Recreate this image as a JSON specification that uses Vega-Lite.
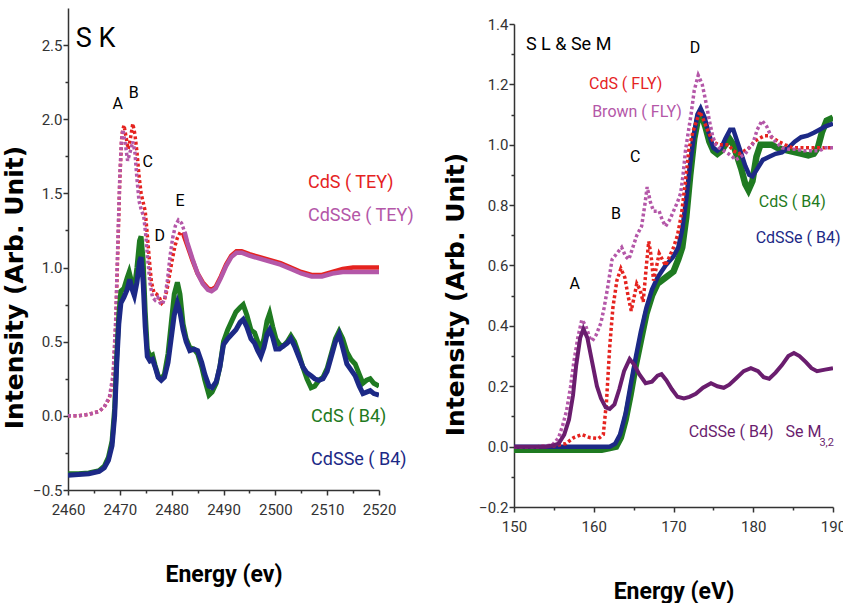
{
  "$schema": "https://vega.github.io/schema/vega-lite/v6.json",
  "background": "white",
  "padding": {"left": 2, "top": 8, "right": 0, "bottom": 0},
  "spacing": 28,
  "config": {
    "view": {"stroke": null},
    "axis": {
      "grid": false,
      "domainColor": "#333",
      "domainWidth": 1.5,
      "tickColor": "#333",
      "tickWidth": 1.5,
      "labelColor": "#333",
      "labelFont": "Roboto",
      "labelFontSize": 15,
      "labelFlush": false,
      "titleColor": "black",
      "labelOverlap": false
    },
    "axisX": {"labelPadding": 7, "titleFont": "Roboto", "titleFontSize": 23, "titleFontWeight": "bold", "titlePadding": 46},
    "axisY": {"labelPadding": 1, "titleFont": "DejaVu Sans", "titleFontSize": 25, "titleFontWeight": "bold", "titlePadding": 5},
    "text": {"font": "Roboto"}
  },
  "datasets": {
    "sk": [
      {"s": "CdS TEY", "E": 2460, "I": 0.0}, {"s": "CdS TEY", "E": 2462, "I": 0.0}, {"s": "CdS TEY", "E": 2464, "I": 0.01}, {"s": "CdS TEY", "E": 2466, "I": 0.03}, {"s": "CdS TEY", "E": 2467, "I": 0.06}, {"s": "CdS TEY", "E": 2468, "I": 0.12}, {"s": "CdS TEY", "E": 2468.7, "I": 0.25}, {"s": "CdS TEY", "E": 2469.2, "I": 0.6}, {"s": "CdS TEY", "E": 2469.6, "I": 1.1}, {"s": "CdS TEY", "E": 2470.0, "I": 1.6}, {"s": "CdS TEY", "E": 2470.4, "I": 1.9}, {"s": "CdS TEY", "E": 2470.8, "I": 1.96}, {"s": "CdS TEY", "E": 2471.2, "I": 1.88}, {"s": "CdS TEY", "E": 2471.6, "I": 1.8}, {"s": "CdS TEY", "E": 2472.0, "I": 1.86}, {"s": "CdS TEY", "E": 2472.5, "I": 1.97}, {"s": "CdS TEY", "E": 2472.9, "I": 1.9}, {"s": "CdS TEY", "E": 2473.3, "I": 1.78}, {"s": "CdS TEY", "E": 2473.7, "I": 1.62}, {"s": "CdS TEY", "E": 2474.1, "I": 1.5}, {"s": "CdS TEY", "E": 2474.5, "I": 1.44}, {"s": "CdS TEY", "E": 2474.9, "I": 1.38}, {"s": "CdS TEY", "E": 2475.3, "I": 1.22}, {"s": "CdS TEY", "E": 2475.7, "I": 1.05}, {"s": "CdS TEY", "E": 2476.1, "I": 0.9}, {"s": "CdS TEY", "E": 2476.6, "I": 0.83}, {"s": "CdS TEY", "E": 2477.1, "I": 0.82}, {"s": "CdS TEY", "E": 2477.6, "I": 0.8}, {"s": "CdS TEY", "E": 2478.1, "I": 0.76}, {"s": "CdS TEY", "E": 2478.6, "I": 0.78}, {"s": "CdS TEY", "E": 2479.1, "I": 0.85}, {"s": "CdS TEY", "E": 2479.6, "I": 0.95}, {"s": "CdS TEY", "E": 2480.1, "I": 1.05}, {"s": "CdS TEY", "E": 2480.6, "I": 1.14}, {"s": "CdS TEY", "E": 2481.1, "I": 1.2}, {"s": "CdS TEY", "E": 2481.7, "I": 1.24}, {"s": "CdS TEY", "E": 2482.3, "I": 1.22}, {"s": "CdS TEY", "E": 2483, "I": 1.15}, {"s": "CdS TEY", "E": 2484, "I": 1.05}, {"s": "CdS TEY", "E": 2485, "I": 0.96}, {"s": "CdS TEY", "E": 2486, "I": 0.9}, {"s": "CdS TEY", "E": 2487, "I": 0.86}, {"s": "CdS TEY", "E": 2487.7, "I": 0.85}, {"s": "CdS TEY", "E": 2488.5, "I": 0.87}, {"s": "CdS TEY", "E": 2489.5, "I": 0.94}, {"s": "CdS TEY", "E": 2490.5, "I": 1.02}, {"s": "CdS TEY", "E": 2491.5, "I": 1.08}, {"s": "CdS TEY", "E": 2492.5, "I": 1.11}, {"s": "CdS TEY", "E": 2493.5, "I": 1.11}, {"s": "CdS TEY", "E": 2495, "I": 1.09}, {"s": "CdS TEY", "E": 2497, "I": 1.07}, {"s": "CdS TEY", "E": 2499, "I": 1.05}, {"s": "CdS TEY", "E": 2501, "I": 1.03}, {"s": "CdS TEY", "E": 2503, "I": 1.0}, {"s": "CdS TEY", "E": 2505, "I": 0.97}, {"s": "CdS TEY", "E": 2507, "I": 0.95}, {"s": "CdS TEY", "E": 2509, "I": 0.95}, {"s": "CdS TEY", "E": 2511, "I": 0.97}, {"s": "CdS TEY", "E": 2513, "I": 0.99}, {"s": "CdS TEY", "E": 2515, "I": 1.0}, {"s": "CdS TEY", "E": 2517, "I": 1.0}, {"s": "CdS TEY", "E": 2520, "I": 1.0},

      {"s": "CdSSe TEY", "E": 2460, "I": 0.0}, {"s": "CdSSe TEY", "E": 2462, "I": 0.0}, {"s": "CdSSe TEY", "E": 2464, "I": 0.01}, {"s": "CdSSe TEY", "E": 2466, "I": 0.03}, {"s": "CdSSe TEY", "E": 2467, "I": 0.06}, {"s": "CdSSe TEY", "E": 2468, "I": 0.13}, {"s": "CdSSe TEY", "E": 2468.7, "I": 0.28}, {"s": "CdSSe TEY", "E": 2469.2, "I": 0.65}, {"s": "CdSSe TEY", "E": 2469.6, "I": 1.15}, {"s": "CdSSe TEY", "E": 2470.0, "I": 1.62}, {"s": "CdSSe TEY", "E": 2470.3, "I": 1.85}, {"s": "CdSSe TEY", "E": 2470.6, "I": 1.93}, {"s": "CdSSe TEY", "E": 2471.0, "I": 1.85}, {"s": "CdSSe TEY", "E": 2471.5, "I": 1.72}, {"s": "CdSSe TEY", "E": 2472.0, "I": 1.78}, {"s": "CdSSe TEY", "E": 2472.5, "I": 1.85}, {"s": "CdSSe TEY", "E": 2472.9, "I": 1.78}, {"s": "CdSSe TEY", "E": 2473.3, "I": 1.6}, {"s": "CdSSe TEY", "E": 2473.7, "I": 1.45}, {"s": "CdSSe TEY", "E": 2474.2, "I": 1.38}, {"s": "CdSSe TEY", "E": 2474.6, "I": 1.35}, {"s": "CdSSe TEY", "E": 2475.0, "I": 1.22}, {"s": "CdSSe TEY", "E": 2475.4, "I": 1.05}, {"s": "CdSSe TEY", "E": 2475.8, "I": 0.9}, {"s": "CdSSe TEY", "E": 2476.3, "I": 0.8}, {"s": "CdSSe TEY", "E": 2476.8, "I": 0.78}, {"s": "CdSSe TEY", "E": 2477.3, "I": 0.8}, {"s": "CdSSe TEY", "E": 2477.8, "I": 0.76}, {"s": "CdSSe TEY", "E": 2478.2, "I": 0.75}, {"s": "CdSSe TEY", "E": 2478.7, "I": 0.8}, {"s": "CdSSe TEY", "E": 2479.2, "I": 0.92}, {"s": "CdSSe TEY", "E": 2479.7, "I": 1.08}, {"s": "CdSSe TEY", "E": 2480.2, "I": 1.2}, {"s": "CdSSe TEY", "E": 2480.7, "I": 1.28}, {"s": "CdSSe TEY", "E": 2481.3, "I": 1.32}, {"s": "CdSSe TEY", "E": 2481.9, "I": 1.3}, {"s": "CdSSe TEY", "E": 2482.5, "I": 1.24}, {"s": "CdSSe TEY", "E": 2483, "I": 1.17}, {"s": "CdSSe TEY", "E": 2484, "I": 1.06}, {"s": "CdSSe TEY", "E": 2485, "I": 0.96}, {"s": "CdSSe TEY", "E": 2486, "I": 0.89}, {"s": "CdSSe TEY", "E": 2487, "I": 0.85}, {"s": "CdSSe TEY", "E": 2487.7, "I": 0.84}, {"s": "CdSSe TEY", "E": 2488.5, "I": 0.86}, {"s": "CdSSe TEY", "E": 2489.5, "I": 0.93}, {"s": "CdSSe TEY", "E": 2490.5, "I": 1.01}, {"s": "CdSSe TEY", "E": 2491.5, "I": 1.07}, {"s": "CdSSe TEY", "E": 2492.5, "I": 1.1}, {"s": "CdSSe TEY", "E": 2493.5, "I": 1.1}, {"s": "CdSSe TEY", "E": 2495, "I": 1.08}, {"s": "CdSSe TEY", "E": 2497, "I": 1.06}, {"s": "CdSSe TEY", "E": 2499, "I": 1.04}, {"s": "CdSSe TEY", "E": 2501, "I": 1.02}, {"s": "CdSSe TEY", "E": 2503, "I": 0.99}, {"s": "CdSSe TEY", "E": 2505, "I": 0.96}, {"s": "CdSSe TEY", "E": 2507, "I": 0.94}, {"s": "CdSSe TEY", "E": 2509, "I": 0.94}, {"s": "CdSSe TEY", "E": 2511, "I": 0.96}, {"s": "CdSSe TEY", "E": 2513, "I": 0.97}, {"s": "CdSSe TEY", "E": 2515, "I": 0.97}, {"s": "CdSSe TEY", "E": 2517, "I": 0.97}, {"s": "CdSSe TEY", "E": 2520, "I": 0.97},

      {"s": "CdS B4", "E": 2460, "I": -0.39}, {"s": "CdS B4", "E": 2462, "I": -0.39}, {"s": "CdS B4", "E": 2464, "I": -0.385}, {"s": "CdS B4", "E": 2466, "I": -0.37}, {"s": "CdS B4", "E": 2467, "I": -0.34}, {"s": "CdS B4", "E": 2467.8, "I": -0.28}, {"s": "CdS B4", "E": 2468.5, "I": -0.17}, {"s": "CdS B4", "E": 2469, "I": 0.05}, {"s": "CdS B4", "E": 2469.4, "I": 0.4}, {"s": "CdS B4", "E": 2469.8, "I": 0.68}, {"s": "CdS B4", "E": 2470.2, "I": 0.84}, {"s": "CdS B4", "E": 2470.8, "I": 0.86}, {"s": "CdS B4", "E": 2471.4, "I": 0.93}, {"s": "CdS B4", "E": 2471.8, "I": 0.97}, {"s": "CdS B4", "E": 2472.3, "I": 0.9}, {"s": "CdS B4", "E": 2472.8, "I": 0.86}, {"s": "CdS B4", "E": 2473.3, "I": 1.0}, {"s": "CdS B4", "E": 2473.8, "I": 1.18}, {"s": "CdS B4", "E": 2474.1, "I": 1.21}, {"s": "CdS B4", "E": 2474.5, "I": 1.05}, {"s": "CdS B4", "E": 2474.9, "I": 0.7}, {"s": "CdS B4", "E": 2475.3, "I": 0.45}, {"s": "CdS B4", "E": 2475.8, "I": 0.4}, {"s": "CdS B4", "E": 2476.3, "I": 0.41}, {"s": "CdS B4", "E": 2476.8, "I": 0.34}, {"s": "CdS B4", "E": 2477.4, "I": 0.27}, {"s": "CdS B4", "E": 2478.0, "I": 0.25}, {"s": "CdS B4", "E": 2478.6, "I": 0.28}, {"s": "CdS B4", "E": 2479.3, "I": 0.42}, {"s": "CdS B4", "E": 2479.9, "I": 0.62}, {"s": "CdS B4", "E": 2480.5, "I": 0.82}, {"s": "CdS B4", "E": 2481.1, "I": 0.9}, {"s": "CdS B4", "E": 2481.6, "I": 0.82}, {"s": "CdS B4", "E": 2482.2, "I": 0.62}, {"s": "CdS B4", "E": 2482.8, "I": 0.52}, {"s": "CdS B4", "E": 2483.5, "I": 0.46}, {"s": "CdS B4", "E": 2484.3, "I": 0.45}, {"s": "CdS B4", "E": 2485.0, "I": 0.42}, {"s": "CdS B4", "E": 2485.8, "I": 0.33}, {"s": "CdS B4", "E": 2486.4, "I": 0.24}, {"s": "CdS B4", "E": 2487.2, "I": 0.14}, {"s": "CdS B4", "E": 2487.8, "I": 0.16}, {"s": "CdS B4", "E": 2488.6, "I": 0.22}, {"s": "CdS B4", "E": 2489.3, "I": 0.33}, {"s": "CdS B4", "E": 2490.0, "I": 0.5}, {"s": "CdS B4", "E": 2490.8, "I": 0.58}, {"s": "CdS B4", "E": 2491.6, "I": 0.64}, {"s": "CdS B4", "E": 2492.4, "I": 0.7}, {"s": "CdS B4", "E": 2493.2, "I": 0.73}, {"s": "CdS B4", "E": 2493.8, "I": 0.75}, {"s": "CdS B4", "E": 2494.5, "I": 0.68}, {"s": "CdS B4", "E": 2495.3, "I": 0.58}, {"s": "CdS B4", "E": 2496.0, "I": 0.56}, {"s": "CdS B4", "E": 2496.6, "I": 0.5}, {"s": "CdS B4", "E": 2497.2, "I": 0.45}, {"s": "CdS B4", "E": 2497.8, "I": 0.52}, {"s": "CdS B4", "E": 2498.4, "I": 0.64}, {"s": "CdS B4", "E": 2498.9, "I": 0.69}, {"s": "CdS B4", "E": 2499.5, "I": 0.6}, {"s": "CdS B4", "E": 2500.1, "I": 0.52}, {"s": "CdS B4", "E": 2500.8, "I": 0.48}, {"s": "CdS B4", "E": 2501.5, "I": 0.47}, {"s": "CdS B4", "E": 2502.3, "I": 0.5}, {"s": "CdS B4", "E": 2503.0, "I": 0.54}, {"s": "CdS B4", "E": 2503.7, "I": 0.5}, {"s": "CdS B4", "E": 2504.5, "I": 0.42}, {"s": "CdS B4", "E": 2505.3, "I": 0.33}, {"s": "CdS B4", "E": 2506.1, "I": 0.25}, {"s": "CdS B4", "E": 2506.9, "I": 0.19}, {"s": "CdS B4", "E": 2507.6, "I": 0.2}, {"s": "CdS B4", "E": 2508.4, "I": 0.24}, {"s": "CdS B4", "E": 2509.2, "I": 0.26}, {"s": "CdS B4", "E": 2510.0, "I": 0.32}, {"s": "CdS B4", "E": 2510.8, "I": 0.42}, {"s": "CdS B4", "E": 2511.6, "I": 0.52}, {"s": "CdS B4", "E": 2512.3, "I": 0.57}, {"s": "CdS B4", "E": 2513.0, "I": 0.52}, {"s": "CdS B4", "E": 2513.8, "I": 0.43}, {"s": "CdS B4", "E": 2514.6, "I": 0.38}, {"s": "CdS B4", "E": 2515.4, "I": 0.35}, {"s": "CdS B4", "E": 2516.2, "I": 0.28}, {"s": "CdS B4", "E": 2516.9, "I": 0.22}, {"s": "CdS B4", "E": 2517.6, "I": 0.24}, {"s": "CdS B4", "E": 2518.3, "I": 0.25}, {"s": "CdS B4", "E": 2519.0, "I": 0.22}, {"s": "CdS B4", "E": 2520.0, "I": 0.2},

      {"s": "CdSSe B4", "E": 2460, "I": -0.4}, {"s": "CdSSe B4", "E": 2462, "I": -0.395}, {"s": "CdSSe B4", "E": 2464, "I": -0.39}, {"s": "CdSSe B4", "E": 2466, "I": -0.375}, {"s": "CdSSe B4", "E": 2467, "I": -0.35}, {"s": "CdSSe B4", "E": 2467.8, "I": -0.3}, {"s": "CdSSe B4", "E": 2468.5, "I": -0.2}, {"s": "CdSSe B4", "E": 2469, "I": 0.0}, {"s": "CdSSe B4", "E": 2469.4, "I": 0.35}, {"s": "CdSSe B4", "E": 2469.8, "I": 0.62}, {"s": "CdSSe B4", "E": 2470.2, "I": 0.76}, {"s": "CdSSe B4", "E": 2470.8, "I": 0.8}, {"s": "CdSSe B4", "E": 2471.4, "I": 0.85}, {"s": "CdSSe B4", "E": 2471.9, "I": 0.92}, {"s": "CdSSe B4", "E": 2472.4, "I": 0.85}, {"s": "CdSSe B4", "E": 2472.8, "I": 0.81}, {"s": "CdSSe B4", "E": 2473.3, "I": 0.9}, {"s": "CdSSe B4", "E": 2473.8, "I": 1.04}, {"s": "CdSSe B4", "E": 2474.1, "I": 1.07}, {"s": "CdSSe B4", "E": 2474.5, "I": 0.9}, {"s": "CdSSe B4", "E": 2474.9, "I": 0.6}, {"s": "CdSSe B4", "E": 2475.3, "I": 0.4}, {"s": "CdSSe B4", "E": 2475.8, "I": 0.37}, {"s": "CdSSe B4", "E": 2476.3, "I": 0.38}, {"s": "CdSSe B4", "E": 2476.8, "I": 0.33}, {"s": "CdSSe B4", "E": 2477.4, "I": 0.26}, {"s": "CdSSe B4", "E": 2478.0, "I": 0.24}, {"s": "CdSSe B4", "E": 2478.6, "I": 0.26}, {"s": "CdSSe B4", "E": 2479.3, "I": 0.36}, {"s": "CdSSe B4", "E": 2479.9, "I": 0.52}, {"s": "CdSSe B4", "E": 2480.5, "I": 0.68}, {"s": "CdSSe B4", "E": 2481.1, "I": 0.76}, {"s": "CdSSe B4", "E": 2481.6, "I": 0.7}, {"s": "CdSSe B4", "E": 2482.2, "I": 0.58}, {"s": "CdSSe B4", "E": 2482.8, "I": 0.5}, {"s": "CdSSe B4", "E": 2483.5, "I": 0.44}, {"s": "CdSSe B4", "E": 2484.3, "I": 0.45}, {"s": "CdSSe B4", "E": 2485.0, "I": 0.44}, {"s": "CdSSe B4", "E": 2485.8, "I": 0.36}, {"s": "CdSSe B4", "E": 2486.4, "I": 0.28}, {"s": "CdSSe B4", "E": 2487.2, "I": 0.2}, {"s": "CdSSe B4", "E": 2487.8, "I": 0.19}, {"s": "CdSSe B4", "E": 2488.6, "I": 0.23}, {"s": "CdSSe B4", "E": 2489.3, "I": 0.33}, {"s": "CdSSe B4", "E": 2490.0, "I": 0.48}, {"s": "CdSSe B4", "E": 2490.8, "I": 0.52}, {"s": "CdSSe B4", "E": 2491.6, "I": 0.55}, {"s": "CdSSe B4", "E": 2492.4, "I": 0.58}, {"s": "CdSSe B4", "E": 2493.2, "I": 0.63}, {"s": "CdSSe B4", "E": 2493.8, "I": 0.65}, {"s": "CdSSe B4", "E": 2494.5, "I": 0.6}, {"s": "CdSSe B4", "E": 2495.3, "I": 0.52}, {"s": "CdSSe B4", "E": 2496.0, "I": 0.49}, {"s": "CdSSe B4", "E": 2496.6, "I": 0.44}, {"s": "CdSSe B4", "E": 2497.2, "I": 0.4}, {"s": "CdSSe B4", "E": 2497.8, "I": 0.46}, {"s": "CdSSe B4", "E": 2498.4, "I": 0.55}, {"s": "CdSSe B4", "E": 2498.9, "I": 0.58}, {"s": "CdSSe B4", "E": 2499.5, "I": 0.53}, {"s": "CdSSe B4", "E": 2500.1, "I": 0.45}, {"s": "CdSSe B4", "E": 2500.8, "I": 0.45}, {"s": "CdSSe B4", "E": 2501.5, "I": 0.47}, {"s": "CdSSe B4", "E": 2502.3, "I": 0.49}, {"s": "CdSSe B4", "E": 2503.0, "I": 0.52}, {"s": "CdSSe B4", "E": 2503.7, "I": 0.47}, {"s": "CdSSe B4", "E": 2504.5, "I": 0.4}, {"s": "CdSSe B4", "E": 2505.3, "I": 0.33}, {"s": "CdSSe B4", "E": 2506.1, "I": 0.29}, {"s": "CdSSe B4", "E": 2506.9, "I": 0.27}, {"s": "CdSSe B4", "E": 2507.6, "I": 0.25}, {"s": "CdSSe B4", "E": 2508.4, "I": 0.24}, {"s": "CdSSe B4", "E": 2509.2, "I": 0.25}, {"s": "CdSSe B4", "E": 2510.0, "I": 0.3}, {"s": "CdSSe B4", "E": 2510.8, "I": 0.4}, {"s": "CdSSe B4", "E": 2511.6, "I": 0.5}, {"s": "CdSSe B4", "E": 2512.3, "I": 0.55}, {"s": "CdSSe B4", "E": 2513.0, "I": 0.46}, {"s": "CdSSe B4", "E": 2513.8, "I": 0.35}, {"s": "CdSSe B4", "E": 2514.6, "I": 0.31}, {"s": "CdSSe B4", "E": 2515.4, "I": 0.27}, {"s": "CdSSe B4", "E": 2516.2, "I": 0.2}, {"s": "CdSSe B4", "E": 2516.9, "I": 0.15}, {"s": "CdSSe B4", "E": 2517.6, "I": 0.16}, {"s": "CdSSe B4", "E": 2518.3, "I": 0.17}, {"s": "CdSSe B4", "E": 2519.0, "I": 0.15}, {"s": "CdSSe B4", "E": 2520.0, "I": 0.14}
    ],
    "sl": [
      {"s": "CdS B4", "E": 150, "I": -0.01}, {"s": "CdS B4", "E": 155, "I": -0.01}, {"s": "CdS B4", "E": 160, "I": -0.01}, {"s": "CdS B4", "E": 161, "I": -0.01}, {"s": "CdS B4", "E": 162, "I": -0.005}, {"s": "CdS B4", "E": 162.8, "I": 0.0}, {"s": "CdS B4", "E": 163.4, "I": 0.03}, {"s": "CdS B4", "E": 164.0, "I": 0.09}, {"s": "CdS B4", "E": 164.6, "I": 0.17}, {"s": "CdS B4", "E": 165.2, "I": 0.26}, {"s": "CdS B4", "E": 165.9, "I": 0.35}, {"s": "CdS B4", "E": 166.6, "I": 0.44}, {"s": "CdS B4", "E": 167.3, "I": 0.5}, {"s": "CdS B4", "E": 168.0, "I": 0.54}, {"s": "CdS B4", "E": 169.0, "I": 0.56}, {"s": "CdS B4", "E": 170.0, "I": 0.58}, {"s": "CdS B4", "E": 170.6, "I": 0.62}, {"s": "CdS B4", "E": 171.1, "I": 0.66}, {"s": "CdS B4", "E": 171.6, "I": 0.76}, {"s": "CdS B4", "E": 172.1, "I": 0.9}, {"s": "CdS B4", "E": 172.6, "I": 1.02}, {"s": "CdS B4", "E": 173.1, "I": 1.09}, {"s": "CdS B4", "E": 173.5, "I": 1.1}, {"s": "CdS B4", "E": 174.0, "I": 1.06}, {"s": "CdS B4", "E": 174.5, "I": 1.01}, {"s": "CdS B4", "E": 175.0, "I": 0.98}, {"s": "CdS B4", "E": 175.5, "I": 0.97}, {"s": "CdS B4", "E": 176.0, "I": 0.98}, {"s": "CdS B4", "E": 176.5, "I": 1.0}, {"s": "CdS B4", "E": 177.0, "I": 1.02}, {"s": "CdS B4", "E": 177.5, "I": 1.0}, {"s": "CdS B4", "E": 178.0, "I": 0.96}, {"s": "CdS B4", "E": 178.5, "I": 0.92}, {"s": "CdS B4", "E": 179.0, "I": 0.87}, {"s": "CdS B4", "E": 179.4, "I": 0.85}, {"s": "CdS B4", "E": 179.9, "I": 0.88}, {"s": "CdS B4", "E": 180.4, "I": 0.96}, {"s": "CdS B4", "E": 180.9, "I": 1.0}, {"s": "CdS B4", "E": 181.6, "I": 1.0}, {"s": "CdS B4", "E": 182.3, "I": 1.0}, {"s": "CdS B4", "E": 183.0, "I": 0.99}, {"s": "CdS B4", "E": 183.7, "I": 0.985}, {"s": "CdS B4", "E": 184.5, "I": 0.98}, {"s": "CdS B4", "E": 185.3, "I": 0.975}, {"s": "CdS B4", "E": 186.1, "I": 0.97}, {"s": "CdS B4", "E": 186.9, "I": 0.965}, {"s": "CdS B4", "E": 187.6, "I": 0.97}, {"s": "CdS B4", "E": 188.1, "I": 0.99}, {"s": "CdS B4", "E": 188.6, "I": 1.04}, {"s": "CdS B4", "E": 189.2, "I": 1.08}, {"s": "CdS B4", "E": 190.0, "I": 1.09},

      {"s": "CdSSe B4", "E": 150, "I": 0.0}, {"s": "CdSSe B4", "E": 155, "I": 0.0}, {"s": "CdSSe B4", "E": 160, "I": 0.0}, {"s": "CdSSe B4", "E": 162, "I": 0.0}, {"s": "CdSSe B4", "E": 162.7, "I": 0.01}, {"s": "CdSSe B4", "E": 163.3, "I": 0.04}, {"s": "CdSSe B4", "E": 164.0, "I": 0.11}, {"s": "CdSSe B4", "E": 164.6, "I": 0.2}, {"s": "CdSSe B4", "E": 165.3, "I": 0.3}, {"s": "CdSSe B4", "E": 165.9, "I": 0.38}, {"s": "CdSSe B4", "E": 166.6, "I": 0.46}, {"s": "CdSSe B4", "E": 167.3, "I": 0.52}, {"s": "CdSSe B4", "E": 168.0, "I": 0.56}, {"s": "CdSSe B4", "E": 169.0, "I": 0.6}, {"s": "CdSSe B4", "E": 170.0, "I": 0.63}, {"s": "CdSSe B4", "E": 170.6, "I": 0.66}, {"s": "CdSSe B4", "E": 171.1, "I": 0.72}, {"s": "CdSSe B4", "E": 171.6, "I": 0.82}, {"s": "CdSSe B4", "E": 172.1, "I": 0.94}, {"s": "CdSSe B4", "E": 172.6, "I": 1.04}, {"s": "CdSSe B4", "E": 173.0, "I": 1.1}, {"s": "CdSSe B4", "E": 173.4, "I": 1.12}, {"s": "CdSSe B4", "E": 173.9, "I": 1.09}, {"s": "CdSSe B4", "E": 174.4, "I": 1.04}, {"s": "CdSSe B4", "E": 175.0, "I": 0.99}, {"s": "CdSSe B4", "E": 175.5, "I": 0.98}, {"s": "CdSSe B4", "E": 176.0, "I": 0.99}, {"s": "CdSSe B4", "E": 176.5, "I": 1.02}, {"s": "CdSSe B4", "E": 177.1, "I": 1.05}, {"s": "CdSSe B4", "E": 177.5, "I": 1.05}, {"s": "CdSSe B4", "E": 178.0, "I": 1.01}, {"s": "CdSSe B4", "E": 178.5, "I": 0.97}, {"s": "CdSSe B4", "E": 179.0, "I": 0.93}, {"s": "CdSSe B4", "E": 179.5, "I": 0.9}, {"s": "CdSSe B4", "E": 179.9, "I": 0.895}, {"s": "CdSSe B4", "E": 180.5, "I": 0.92}, {"s": "CdSSe B4", "E": 181.2, "I": 0.95}, {"s": "CdSSe B4", "E": 182.0, "I": 0.96}, {"s": "CdSSe B4", "E": 182.8, "I": 0.97}, {"s": "CdSSe B4", "E": 183.6, "I": 0.975}, {"s": "CdSSe B4", "E": 184.4, "I": 0.99}, {"s": "CdSSe B4", "E": 185.2, "I": 1.01}, {"s": "CdSSe B4", "E": 186.0, "I": 1.025}, {"s": "CdSSe B4", "E": 186.8, "I": 1.03}, {"s": "CdSSe B4", "E": 187.6, "I": 1.04}, {"s": "CdSSe B4", "E": 188.3, "I": 1.05}, {"s": "CdSSe B4", "E": 189.0, "I": 1.06}, {"s": "CdSSe B4", "E": 190.0, "I": 1.07},

      {"s": "CdS FLY", "E": 150, "I": 0.0}, {"s": "CdS FLY", "E": 153, "I": 0.0}, {"s": "CdS FLY", "E": 155, "I": 0.003}, {"s": "CdS FLY", "E": 156.5, "I": 0.01}, {"s": "CdS FLY", "E": 157.5, "I": 0.03}, {"s": "CdS FLY", "E": 158.5, "I": 0.04}, {"s": "CdS FLY", "E": 159.5, "I": 0.03}, {"s": "CdS FLY", "E": 160.6, "I": 0.027}, {"s": "CdS FLY", "E": 161.2, "I": 0.04}, {"s": "CdS FLY", "E": 161.6, "I": 0.15}, {"s": "CdS FLY", "E": 162.0, "I": 0.33}, {"s": "CdS FLY", "E": 162.4, "I": 0.46}, {"s": "CdS FLY", "E": 162.9, "I": 0.55}, {"s": "CdS FLY", "E": 163.4, "I": 0.59}, {"s": "CdS FLY", "E": 163.9, "I": 0.56}, {"s": "CdS FLY", "E": 164.3, "I": 0.5}, {"s": "CdS FLY", "E": 164.7, "I": 0.45}, {"s": "CdS FLY", "E": 165.1, "I": 0.5}, {"s": "CdS FLY", "E": 165.4, "I": 0.54}, {"s": "CdS FLY", "E": 165.8, "I": 0.52}, {"s": "CdS FLY", "E": 166.2, "I": 0.48}, {"s": "CdS FLY", "E": 166.6, "I": 0.6}, {"s": "CdS FLY", "E": 166.9, "I": 0.68}, {"s": "CdS FLY", "E": 167.2, "I": 0.63}, {"s": "CdS FLY", "E": 167.5, "I": 0.55}, {"s": "CdS FLY", "E": 167.9, "I": 0.6}, {"s": "CdS FLY", "E": 168.2, "I": 0.64}, {"s": "CdS FLY", "E": 168.6, "I": 0.62}, {"s": "CdS FLY", "E": 169.0, "I": 0.6}, {"s": "CdS FLY", "E": 169.5, "I": 0.63}, {"s": "CdS FLY", "E": 170.0, "I": 0.66}, {"s": "CdS FLY", "E": 170.5, "I": 0.7}, {"s": "CdS FLY", "E": 171.0, "I": 0.77}, {"s": "CdS FLY", "E": 171.5, "I": 0.88}, {"s": "CdS FLY", "E": 171.9, "I": 0.98}, {"s": "CdS FLY", "E": 172.4, "I": 1.04}, {"s": "CdS FLY", "E": 172.9, "I": 1.08}, {"s": "CdS FLY", "E": 173.3, "I": 1.11}, {"s": "CdS FLY", "E": 173.8, "I": 1.08}, {"s": "CdS FLY", "E": 174.4, "I": 1.04}, {"s": "CdS FLY", "E": 175.0, "I": 1.01}, {"s": "CdS FLY", "E": 175.6, "I": 1.0}, {"s": "CdS FLY", "E": 176.3, "I": 1.0}, {"s": "CdS FLY", "E": 176.9, "I": 1.0}, {"s": "CdS FLY", "E": 177.5, "I": 0.98}, {"s": "CdS FLY", "E": 178.2, "I": 0.97}, {"s": "CdS FLY", "E": 178.9, "I": 0.98}, {"s": "CdS FLY", "E": 179.5, "I": 0.99}, {"s": "CdS FLY", "E": 180.1, "I": 1.01}, {"s": "CdS FLY", "E": 180.7, "I": 1.02}, {"s": "CdS FLY", "E": 181.4, "I": 1.03}, {"s": "CdS FLY", "E": 182.0, "I": 1.03}, {"s": "CdS FLY", "E": 182.6, "I": 1.02}, {"s": "CdS FLY", "E": 183.2, "I": 1.01}, {"s": "CdS FLY", "E": 184.0, "I": 1.0}, {"s": "CdS FLY", "E": 184.9, "I": 0.99}, {"s": "CdS FLY", "E": 186.0, "I": 0.99}, {"s": "CdS FLY", "E": 187.0, "I": 0.99}, {"s": "CdS FLY", "E": 188.0, "I": 0.99}, {"s": "CdS FLY", "E": 189.0, "I": 0.99}, {"s": "CdS FLY", "E": 190.0, "I": 0.99},

      {"s": "Brown FLY", "E": 150, "I": 0.0}, {"s": "Brown FLY", "E": 153, "I": 0.0}, {"s": "Brown FLY", "E": 154.8, "I": 0.005}, {"s": "Brown FLY", "E": 155.6, "I": 0.03}, {"s": "Brown FLY", "E": 156.1, "I": 0.07}, {"s": "Brown FLY", "E": 156.6, "I": 0.12}, {"s": "Brown FLY", "E": 157.1, "I": 0.2}, {"s": "Brown FLY", "E": 157.5, "I": 0.28}, {"s": "Brown FLY", "E": 158.0, "I": 0.36}, {"s": "Brown FLY", "E": 158.5, "I": 0.42}, {"s": "Brown FLY", "E": 159.0, "I": 0.4}, {"s": "Brown FLY", "E": 159.5, "I": 0.36}, {"s": "Brown FLY", "E": 159.8, "I": 0.35}, {"s": "Brown FLY", "E": 160.3, "I": 0.37}, {"s": "Brown FLY", "E": 160.9, "I": 0.41}, {"s": "Brown FLY", "E": 161.3, "I": 0.46}, {"s": "Brown FLY", "E": 161.7, "I": 0.52}, {"s": "Brown FLY", "E": 162.0, "I": 0.57}, {"s": "Brown FLY", "E": 162.3, "I": 0.62}, {"s": "Brown FLY", "E": 162.9, "I": 0.64}, {"s": "Brown FLY", "E": 163.5, "I": 0.66}, {"s": "Brown FLY", "E": 164.0, "I": 0.63}, {"s": "Brown FLY", "E": 164.4, "I": 0.62}, {"s": "Brown FLY", "E": 164.9, "I": 0.66}, {"s": "Brown FLY", "E": 165.4, "I": 0.7}, {"s": "Brown FLY", "E": 166.0, "I": 0.73}, {"s": "Brown FLY", "E": 166.4, "I": 0.8}, {"s": "Brown FLY", "E": 166.7, "I": 0.86}, {"s": "Brown FLY", "E": 167.1, "I": 0.81}, {"s": "Brown FLY", "E": 167.5, "I": 0.78}, {"s": "Brown FLY", "E": 168.2, "I": 0.78}, {"s": "Brown FLY", "E": 168.6, "I": 0.75}, {"s": "Brown FLY", "E": 169.0, "I": 0.73}, {"s": "Brown FLY", "E": 169.5, "I": 0.75}, {"s": "Brown FLY", "E": 170.0, "I": 0.78}, {"s": "Brown FLY", "E": 170.5, "I": 0.81}, {"s": "Brown FLY", "E": 170.9, "I": 0.84}, {"s": "Brown FLY", "E": 171.2, "I": 0.9}, {"s": "Brown FLY", "E": 171.5, "I": 0.98}, {"s": "Brown FLY", "E": 171.9, "I": 1.05}, {"s": "Brown FLY", "E": 172.2, "I": 1.1}, {"s": "Brown FLY", "E": 172.6, "I": 1.18}, {"s": "Brown FLY", "E": 173.1, "I": 1.23}, {"s": "Brown FLY", "E": 173.6, "I": 1.2}, {"s": "Brown FLY", "E": 174.0, "I": 1.15}, {"s": "Brown FLY", "E": 174.5, "I": 1.08}, {"s": "Brown FLY", "E": 174.9, "I": 1.03}, {"s": "Brown FLY", "E": 175.3, "I": 1.0}, {"s": "Brown FLY", "E": 175.7, "I": 0.99}, {"s": "Brown FLY", "E": 176.3, "I": 0.98}, {"s": "Brown FLY", "E": 176.9, "I": 0.97}, {"s": "Brown FLY", "E": 177.4, "I": 0.96}, {"s": "Brown FLY", "E": 177.8, "I": 0.95}, {"s": "Brown FLY", "E": 178.4, "I": 0.96}, {"s": "Brown FLY", "E": 179.0, "I": 0.97}, {"s": "Brown FLY", "E": 179.5, "I": 0.99}, {"s": "Brown FLY", "E": 179.9, "I": 1.0}, {"s": "Brown FLY", "E": 180.5, "I": 1.05}, {"s": "Brown FLY", "E": 181.1, "I": 1.08}, {"s": "Brown FLY", "E": 181.7, "I": 1.06}, {"s": "Brown FLY", "E": 182.2, "I": 1.03}, {"s": "Brown FLY", "E": 182.8, "I": 1.01}, {"s": "Brown FLY", "E": 183.6, "I": 0.99}, {"s": "Brown FLY", "E": 184.5, "I": 0.985}, {"s": "Brown FLY", "E": 185.3, "I": 0.985}, {"s": "Brown FLY", "E": 186.3, "I": 0.98}, {"s": "Brown FLY", "E": 187.3, "I": 0.98}, {"s": "Brown FLY", "E": 188.3, "I": 0.98}, {"s": "Brown FLY", "E": 189.0, "I": 0.99}, {"s": "Brown FLY", "E": 190.0, "I": 0.99},

      {"s": "Se M", "E": 150, "I": 0.0}, {"s": "Se M", "E": 152, "I": 0.0}, {"s": "Se M", "E": 154, "I": 0.0}, {"s": "Se M", "E": 155, "I": 0.005}, {"s": "Se M", "E": 155.6, "I": 0.01}, {"s": "Se M", "E": 156.3, "I": 0.04}, {"s": "Se M", "E": 156.9, "I": 0.09}, {"s": "Se M", "E": 157.4, "I": 0.17}, {"s": "Se M", "E": 157.8, "I": 0.27}, {"s": "Se M", "E": 158.3, "I": 0.36}, {"s": "Se M", "E": 158.7, "I": 0.39}, {"s": "Se M", "E": 159.2, "I": 0.36}, {"s": "Se M", "E": 159.8, "I": 0.28}, {"s": "Se M", "E": 160.4, "I": 0.2}, {"s": "Se M", "E": 160.9, "I": 0.16}, {"s": "Se M", "E": 161.5, "I": 0.13}, {"s": "Se M", "E": 162.0, "I": 0.125}, {"s": "Se M", "E": 162.6, "I": 0.14}, {"s": "Se M", "E": 163.2, "I": 0.19}, {"s": "Se M", "E": 163.8, "I": 0.25}, {"s": "Se M", "E": 164.5, "I": 0.29}, {"s": "Se M", "E": 165.1, "I": 0.27}, {"s": "Se M", "E": 165.7, "I": 0.24}, {"s": "Se M", "E": 166.5, "I": 0.21}, {"s": "Se M", "E": 167.3, "I": 0.215}, {"s": "Se M", "E": 168.0, "I": 0.235}, {"s": "Se M", "E": 168.5, "I": 0.24}, {"s": "Se M", "E": 169.1, "I": 0.22}, {"s": "Se M", "E": 169.8, "I": 0.19}, {"s": "Se M", "E": 170.5, "I": 0.165}, {"s": "Se M", "E": 171.3, "I": 0.16}, {"s": "Se M", "E": 172.0, "I": 0.165}, {"s": "Se M", "E": 172.8, "I": 0.175}, {"s": "Se M", "E": 173.7, "I": 0.195}, {"s": "Se M", "E": 174.7, "I": 0.21}, {"s": "Se M", "E": 175.5, "I": 0.2}, {"s": "Se M", "E": 176.3, "I": 0.195}, {"s": "Se M", "E": 177.0, "I": 0.205}, {"s": "Se M", "E": 177.8, "I": 0.225}, {"s": "Se M", "E": 178.8, "I": 0.25}, {"s": "Se M", "E": 179.7, "I": 0.26}, {"s": "Se M", "E": 180.6, "I": 0.25}, {"s": "Se M", "E": 181.3, "I": 0.23}, {"s": "Se M", "E": 182.0, "I": 0.225}, {"s": "Se M", "E": 182.8, "I": 0.245}, {"s": "Se M", "E": 183.6, "I": 0.27}, {"s": "Se M", "E": 184.4, "I": 0.3}, {"s": "Se M", "E": 185.1, "I": 0.31}, {"s": "Se M", "E": 185.8, "I": 0.3}, {"s": "Se M", "E": 186.6, "I": 0.28}, {"s": "Se M", "E": 187.3, "I": 0.26}, {"s": "Se M", "E": 188.0, "I": 0.25}, {"s": "Se M", "E": 189.0, "I": 0.255}, {"s": "Se M", "E": 190.0, "I": 0.26}
    ]
  },
  "hconcat": [
    {
      "width": 311,
      "height": 482,
      "encoding": {
        "x": {
          "field": "E", "type": "quantitative",
          "scale": {"domain": [2460, 2520], "nice": false, "zero": false},
          "axis": {
            "title": "Energy (ev)",
            "values": [2460, 2465, 2470, 2475, 2480, 2485, 2490, 2495, 2500, 2505, 2510, 2515, 2520],
            "format": "d",
            "labelExpr": "datum.value % 10 === 0 ? datum.label : ''",
            "tickSize": {"condition": {"test": "datum.value % 10 !== 0", "value": 3}, "value": 5}
          }
        },
        "y": {
          "field": "I", "type": "quantitative",
          "scale": {"domain": [-0.5, 2.75], "nice": false, "zero": false},
          "axis": {
            "title": "Intensity (Arb. Unit)",
            "titleY": 279,
            "values": [-0.5, -0.25, 0, 0.25, 0.5, 0.75, 1, 1.25, 1.5, 1.75, 2, 2.25, 2.5],
            "labelExpr": "abs(datum.value * 2 - round(datum.value * 2)) < 0.001 ? format(datum.value, '.1f') : ''",
            "tickSize": {"condition": {"test": "abs(datum.value * 2 - round(datum.value * 2)) > 0.001", "value": 3}, "value": 5}
          }
        }
      },
      "layer": [
        {
          "data": {"name": "sk"},
          "transform": [{"filter": "datum.s === 'CdS TEY' || datum.s === 'CdSSe TEY'"}, {"filter": "datum.E <= 2483"}],
          "mark": {"type": "line", "strokeWidth": 3.5, "strokeDash": [3, 2.5], "clip": true},
          "encoding": {"color": {"field": "s", "type": "nominal", "legend": null,
            "scale": {"domain": ["CdS TEY", "CdSSe TEY", "CdS B4", "CdSSe B4", "CdS FLY", "Brown FLY", "Se M"], "range": ["#e5231f", "#b457a8", "#1f7a21", "#1c2986", "#e5231f", "#b457a8", "#6a1d6e"]}}}
        },
        {
          "data": {"name": "sk"},
          "transform": [{"filter": "datum.s === 'CdS TEY' || datum.s === 'CdSSe TEY'"}, {"filter": "datum.E >= 2482.3"}],
          "mark": {"type": "line", "strokeWidth": 4.5, "clip": true},
          "encoding": {"color": {"field": "s", "type": "nominal", "legend": null}}
        },
        {
          "data": {"name": "sk"},
          "transform": [{"filter": "datum.s === 'CdS B4' || datum.s === 'CdSSe B4'"}],
          "mark": {"type": "line", "strokeWidth": 5, "clip": true},
          "encoding": {"color": {"field": "s", "type": "nominal", "legend": null}}
        },
        {
          "data": {"values": [{"t": "S K", "E": 2461.5, "I": 2.54}]},
          "mark": {"type": "text", "align": "left", "baseline": "middle", "fontSize": 27, "color": "black"},
          "encoding": {"text": {"field": "t"}}
        },
        {
          "data": {"values": [
            {"t": "A", "E": 2469.6, "I": 2.1},
            {"t": "B", "E": 2472.7, "I": 2.18},
            {"t": "C", "E": 2475.4, "I": 1.71},
            {"t": "D", "E": 2477.7, "I": 1.21},
            {"t": "E", "E": 2481.6, "I": 1.45}
          ]},
          "mark": {"type": "text", "align": "center", "baseline": "middle", "fontSize": 16, "color": "black"},
          "encoding": {"text": {"field": "t"}}
        },
        {
          "data": {"values": [
            {"t": "CdS ( TEY)", "s": "CdS TEY", "E": 2506.3, "I": 1.57},
            {"t": "CdSSe ( TEY)", "s": "CdSSe TEY", "E": 2506.3, "I": 1.35},
            {"t": "CdS ( B4)", "s": "CdS B4", "E": 2506.9, "I": -0.01},
            {"t": "CdSSe ( B4)", "s": "CdSSe B4", "E": 2506.9, "I": -0.3}
          ]},
          "mark": {"type": "text", "align": "left", "baseline": "middle", "fontSize": 18},
          "encoding": {"text": {"field": "t"}, "color": {"field": "s", "type": "nominal", "legend": null}}
        }
      ]
    },
    {
      "spacing": 0,
      "vconcat": [
        {
          "width": 319,
          "height": 9,
          "data": {"values": []},
          "mark": "point"
        },
        {
          "width": 319,
          "height": 483,
          "encoding": {
            "x": {
              "field": "E", "type": "quantitative",
              "scale": {"domain": [150, 190], "nice": false, "zero": false},
              "axis": {
                "title": "Energy (eV)",
                "values": [150, 155, 160, 165, 170, 175, 180, 185, 190],
                "format": "d",
                "labelExpr": "datum.value % 10 === 0 ? datum.label : ''",
                "tickSize": {"condition": {"test": "datum.value % 10 !== 0", "value": 3}, "value": 5}
              }
            },
            "y": {
              "field": "I", "type": "quantitative",
              "scale": {"domain": [-0.2, 1.4], "nice": false, "zero": false},
              "axis": {
                "title": "Intensity (Arb. Unit)",
                "titlePadding": 10,
                "titleY": 270,
                "values": [-0.2, -0.1, 0, 0.1, 0.2, 0.3, 0.4, 0.5, 0.6, 0.7, 0.8, 0.9, 1.0, 1.1, 1.2, 1.3, 1.4],
                "labelExpr": "abs(datum.value * 5 - round(datum.value * 5)) < 0.001 ? format(datum.value, '.1f') : ''",
                "tickSize": {"condition": {"test": "abs(datum.value * 5 - round(datum.value * 5)) > 0.001", "value": 3}, "value": 5}
              }
            }
          },
          "layer": [
            {
              "data": {"name": "sl"},
              "transform": [{"filter": "datum.s === 'CdS B4'"}],
              "mark": {"type": "line", "strokeWidth": 6.5, "clip": true},
              "encoding": {"color": {"field": "s", "type": "nominal", "legend": null,
                "scale": {"domain": ["CdS TEY", "CdSSe TEY", "CdS B4", "CdSSe B4", "CdS FLY", "Brown FLY", "Se M"], "range": ["#e5231f", "#b457a8", "#1f7a21", "#1c2986", "#e5231f", "#b457a8", "#6a1d6e"]}}}
            },
            {
              "data": {"name": "sl"},
              "transform": [{"filter": "datum.s === 'CdSSe B4'"}],
              "mark": {"type": "line", "strokeWidth": 4.5, "clip": true},
              "encoding": {"color": {"field": "s", "type": "nominal", "legend": null}}
            },
            {
              "data": {"name": "sl"},
              "transform": [{"filter": "datum.s === 'CdS FLY' || datum.s === 'Brown FLY'"}],
              "mark": {"type": "line", "strokeWidth": 3.5, "strokeDash": [3, 2.5], "clip": true},
              "encoding": {"color": {"field": "s", "type": "nominal", "legend": null}}
            },
            {
              "data": {"name": "sl"},
              "transform": [{"filter": "datum.s === 'Se M'"}],
              "mark": {"type": "line", "strokeWidth": 4, "clip": true},
              "encoding": {"color": {"field": "s", "type": "nominal", "legend": null}}
            },
            {
              "data": {"values": [{"t": "S L & Se M", "E": 151.5, "I": 1.33}]},
              "mark": {"type": "text", "align": "left", "baseline": "middle", "fontSize": 18, "color": "black"},
              "encoding": {"text": {"field": "t"}}
            },
            {
              "data": {"values": [
                {"t": "D", "E": 172.7, "I": 1.32},
                {"t": "C", "E": 165.2, "I": 0.96},
                {"t": "B", "E": 162.8, "I": 0.77},
                {"t": "A", "E": 157.6, "I": 0.54}
              ]},
              "mark": {"type": "text", "align": "center", "baseline": "middle", "fontSize": 16, "color": "black"},
              "encoding": {"text": {"field": "t"}}
            },
            {
              "data": {"values": [
                {"t": "CdS ( FLY)", "s": "CdS FLY", "E": 159.4, "I": 1.2},
                {"t": "Brown ( FLY)", "s": "Brown FLY", "E": 159.8, "I": 1.11},
                {"t": "CdS ( B4)", "s": "CdS B4", "E": 180.7, "I": 0.81},
                {"t": "CdSSe ( B4)", "s": "CdSSe B4", "E": 180.3, "I": 0.69},
                {"t": "CdSSe ( B4)\u00a0\u00a0\u00a0Se M", "s": "Se M", "E": 171.9, "I": 0.05}
              ]},
              "mark": {"type": "text", "align": "left", "baseline": "middle", "fontSize": 16},
              "encoding": {"text": {"field": "t"}, "color": {"field": "s", "type": "nominal", "legend": null}}
            },
            {
              "data": {"values": [{"t": "3,2", "s": "Se M", "E": 188.3, "I": 0.012}]},
              "mark": {"type": "text", "align": "left", "baseline": "middle", "fontSize": 11},
              "encoding": {"text": {"field": "t"}, "color": {"field": "s", "type": "nominal", "legend": null}}
            }
          ]
        }
      ]
    }
  ]
}
